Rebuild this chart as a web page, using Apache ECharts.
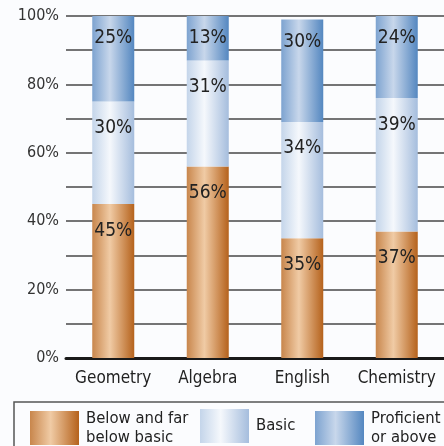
<!DOCTYPE html>
<html>
<head>
<meta charset="utf-8">
<script src="https://cdn.jsdelivr.net/npm/echarts@6/dist/echarts.min.js"></script>
<style>
html,body{margin:0;padding:0;background:#fbfcfe;}
#c{width:444px;height:446px;}
</style>
</head>
<body>
<div id="c"></div>
<script>
const categories = ['Geometry', 'Algebra', 'English', 'Chemistry'];
const belowBasic = [45, 56, 35, 37];
const basic = [30, 31, 34, 39];
const proficient = [25, 13, 30, 24];
const seriesNames = ['Below and far below basic', 'Basic', 'Proficient or above'];
const legendLabels = ['Below and far\nbelow basic', 'Basic', 'Proficient\nor above'];
const yTicks = [0, 20, 40, 60, 80, 100];

const FONT = '"DejaVu Sans Condensed", "DejaVu Sans", sans-serif';

function grad(stops) {
  return new echarts.graphic.LinearGradient(0, 0, 1, 0,
    stops.map((c, i) => ({ offset: [0, 0.42, 1][i], color: c })));
}
const fillStops = [
  ['#c8864c', '#f0cba5', '#b5621c'],
  ['#c4d5ea', '#f5f8fc', '#a5bddd'],
  ['#7da3d0', '#c8d7eb', '#5487c0']
];
const dataSets = [belowBasic, basic, proficient];
const labelDist = [17, 17, 13];

const chart = echarts.init(document.getElementById('c'));
chart.setOption({
  backgroundColor: '#fbfcfe',
  animation: false,
  grid: { left: 66, top: 16, bottom: 88, width: 386 },
  xAxis: {
    type: 'category',
    data: categories,
    axisLine: { show: true, lineStyle: { color: '#1a1a1a', width: 3 } },
    axisTick: { show: false },
    axisLabel: { interval: 0, fontFamily: FONT, fontSize: 17, color: '#222', margin: 12 }
  },
  yAxis: {
    type: 'value',
    min: 0, max: 100, interval: 10,
    axisLine: { show: false },
    axisTick: { show: false },
    splitLine: { show: true, lineStyle: { color: '#474747', width: 1.6 } },
    axisLabel: {
      fontFamily: FONT, fontSize: 16, color: '#333', margin: 7,
      formatter: v => yTicks.includes(v) ? v + '%' : ''
    }
  },
  legend: seriesNames.map((n, i) => ({
    data: [n],
    left: [30, 200, 315][i],
    top: 409,
    padding: 0,
    itemWidth: 49,
    itemHeight: 34,
    itemGap: 0,
    icon: 'rect',
    itemStyle: { color: grad(fillStops[i]), borderWidth: 0 },
    formatter: () => legendLabels[i],
    textStyle: { fontFamily: FONT, fontSize: 16.5, lineHeight: 19, color: '#222', padding: [0, 0, 0, 2] },
    selectedMode: false
  })),
  graphic: [{
    type: 'rect',
    shape: { x: 14, y: 402, width: 460, height: 60 },
    style: { fill: 'none', stroke: '#555', lineWidth: 1.5 },
    silent: true
  }],
  series: seriesNames.map((n, i) => ({
    name: n,
    type: 'bar',
    stack: 'total',
    barWidth: 42,
    data: dataSets[i],
    itemStyle: { color: grad(fillStops[i]) },
    label: {
      show: true,
      position: 'insideTop',
      distance: labelDist[i],
      fontFamily: FONT,
      fontSize: 19,
      color: '#222',
      formatter: p => p.value + '%'
    }
  }))
});
</script>
</body>
</html>
